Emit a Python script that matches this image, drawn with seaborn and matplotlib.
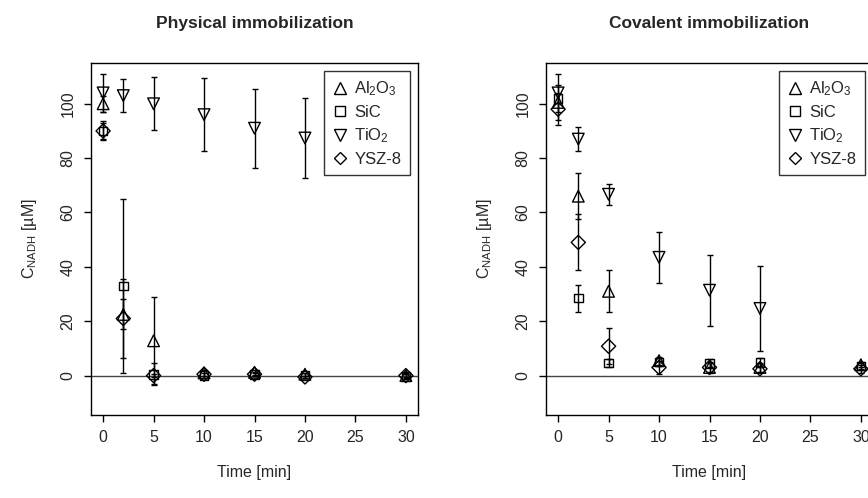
import numpy as np
import pandas as pd
import matplotlib
matplotlib.use("Agg")
import matplotlib.pyplot as plt
import seaborn as sns

sns.set_style("white")
plt.rcParams['font.family'] = ['Liberation Sans', 'DejaVu Sans']
plt.rcParams['mathtext.fontset'] = 'custom'
plt.rcParams['mathtext.rm'] = 'Liberation Sans'
plt.rcParams['mathtext.it'] = 'Liberation Sans'
plt.rcParams['mathtext.default'] = 'regular'

nan = np.nan
times = [0, 2, 5, 10, 15, 20, 30]
materials = ["Al2O3", "SiC", "TiO2", "YSZ-8"]
legend_labels = [r"Al$_2$O$_3$", "SiC", r"TiO$_2$", "YSZ-8"]

# Physical immobilization
phys_al2o3 = [100, 22.5, 12.8, 1.0, 1.2, 0.5, 0.0]
phys_al2o3_err = [3, 5.5, 16, 1.0, 1.0, 0.5, 0.5]
phys_sic = [90, 33, 0.5, 0.0, 0.3, 0.0, -0.3]
phys_sic_err = [3.5, 32, 4, 0.8, 0.5, 0.8, 0.8]
phys_tio2 = [104, 103, 100, 96, 91, 87.4, nan]
phys_tio2_err = [7, 6, 9.8, 13.5, 14.6, 14.7, nan]
phys_ysz = [90, 21, 0.0, 0.5, 0.5, -0.5, 0.0]
phys_ysz_err = [3, 14.5, 0.5, 1.5, 0.8, 0.5, 1.0]

# Covalent immobilization
cov_al2o3 = [100.5, 66, 31, 5.5, 3, 3, 4]
cov_al2o3_err = [6.5, 8.5, 7.7, 1.5, 1.5, 1.5, 1.0]
cov_sic = [102, 28.5, 4.7, 5, 4.5, 4.8, 3.5]
cov_sic_err = [1.6, 5, 1.5, 1.5, 1.5, 1.5, 1.0]
cov_tio2 = [104, 87, 66.7, 43.5, 31.4, 24.7, nan]
cov_tio2_err = [7, 4.4, 3.9, 9.5, 13, 15.5, nan]
cov_ysz = [98, 49, 10.8, 3, 3, 2.5, 2.5]
cov_ysz_err = [5.8, 10.3, 6.7, 2.5, 2.0, 1.0, 1.5]

x_ticks = [0, 5, 10, 15, 20, 25, 30]
y_ticks = [0, 20, 40, 60, 80, 100]

markers = {"Al2O3": "^", "SiC": "s", "TiO2": "v", "YSZ-8": "D"}
sizes = {"Al2O3": 70, "SiC": 38, "TiO2": 70, "YSZ-8": 52}


def make_df(vals, errs):
    rows = []
    for m, v, e in zip(materials, vals, errs):
        for t, vv, ee in zip(times, v, e):
            if not np.isnan(vv):
                rows.append({"time": t, "value": vv, "err": ee, "material": m})
    return pd.DataFrame(rows)


phys_df = make_df([phys_al2o3, phys_sic, phys_tio2, phys_ysz],
                  [phys_al2o3_err, phys_sic_err, phys_tio2_err, phys_ysz_err])
cov_df = make_df([cov_al2o3, cov_sic, cov_tio2, cov_ysz],
                 [cov_al2o3_err, cov_sic_err, cov_tio2_err, cov_ysz_err])

W, H = 868, 498
fig = plt.figure(figsize=(W / 100, H / 100), dpi=100)
ax_w = (418 - 91) / W
ax_h = (415 - 63) / H
ax_b = 1 - 415 / H
ax1 = fig.add_axes([91 / W, ax_b, ax_w, ax_h])
ax2 = fig.add_axes([546 / W, ax_b, ax_w, ax_h])

for ax, df, title in [(ax1, phys_df, "Physical immobilization"),
                      (ax2, cov_df, "Covalent immobilization")]:
    ax.axhline(0, color="#444444", lw=1.0, zorder=1)
    ax.errorbar(df["time"], df["value"], yerr=df["err"], fmt="none",
                ecolor="black", elinewidth=1.0, capsize=2.2, capthick=1.0, zorder=2)
    for m in materials:
        sub = df[df["material"] == m]
        sns.scatterplot(data=sub, x="time", y="value", ax=ax,
                        marker=markers[m], s=sizes[m], facecolor="none",
                        edgecolor="black", linewidth=1.0, zorder=3, legend=False)
    ax.set_xlim(-1.2, 31.2)
    ax.set_ylim(-14.5, 115)
    ax.set_xticks(x_ticks)
    ax.set_yticks(y_ticks)
    ax.set_xticklabels([str(v) for v in x_ticks], fontsize=11.5)
    ax.set_yticklabels([str(v) for v in y_ticks], fontsize=11.5, rotation=90, va="center")
    ax.tick_params(axis="both", direction="out", length=5, width=1, color="black",
                   bottom=True, left=True, pad=6)
    for s in ax.spines.values():
        s.set_visible(True)
        s.set_color("black")
        s.set_linewidth(1.0)
    ax.set_xlabel("Time [min]", fontsize=11.5)
    ax.set_ylabel(r"C$_{NADH}$ [µM]", fontsize=11.5)
    ax.xaxis.set_label_coords(0.5, -50 / (415 - 63))
    ax.yaxis.set_label_coords(-52 / (418 - 91), 0.5)
    ax.set_title(title, fontsize=12.5, fontweight="bold", pad=25)

    handles = [plt.Line2D([], [], linestyle="none", marker=markers[m],
                          markersize=(8 if m in ("Al2O3", "TiO2") else 6.5),
                          markerfacecolor="none", markeredgecolor="black",
                          markeredgewidth=1.0) for m in materials]
    leg = ax.legend(handles, legend_labels, loc="upper right", fontsize=12,
                    frameon=True, fancybox=False, edgecolor="black",
                    borderaxespad=0.5, handlelength=0.9, handletextpad=0.4,
                    labelspacing=0.4, borderpad=0.5)
    leg.get_frame().set_linewidth(1.0)

fig.savefig("out.png", dpi=100)
